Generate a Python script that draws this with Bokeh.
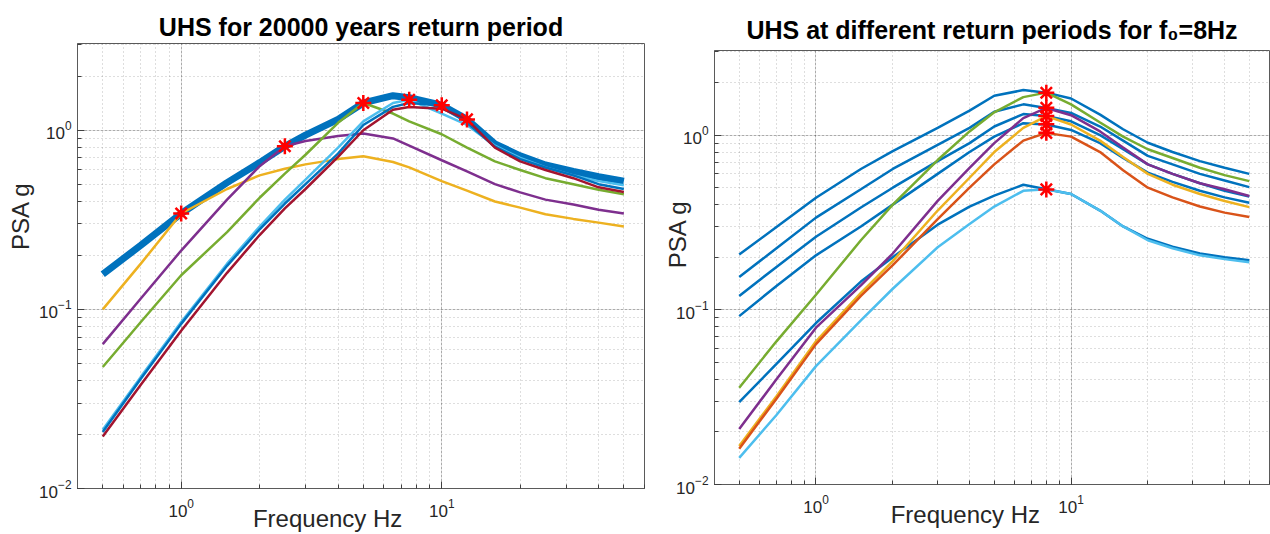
from bokeh.plotting import figure
from bokeh.models import Range1d, LogTicker, Title
from bokeh.layouts import row
from bokeh.embed import file_html
from bokeh.resources import INLINE

# ---------------- data: left panel (UHS 20000 years) ----------------
freq_left = [0.5, 0.7, 1, 1.5, 2, 2.5, 3, 4, 5, 6.5, 7.5, 10, 12.5, 16, 20, 25, 32, 40, 50]
uhs_20000 = [0.157, 0.228, 0.343, 0.51, 0.66, 0.814, 0.94, 1.15, 1.42, 1.56, 1.52, 1.38, 1.15, 0.84, 0.72, 0.64, 0.59, 0.55, 0.52]
cs_1hz = [0.1, 0.18, 0.343, 0.47, 0.56, 0.61, 0.645, 0.69, 0.715, 0.665, 0.62, 0.52, 0.46, 0.4, 0.37, 0.34, 0.32, 0.305, 0.29]
cs_2p5hz = [0.064, 0.115, 0.213, 0.41, 0.63, 0.814, 0.87, 0.93, 0.96, 0.9, 0.82, 0.68, 0.59, 0.5, 0.45, 0.41, 0.385, 0.36, 0.343]
cs_5hz = [0.0477, 0.085, 0.155, 0.27, 0.42, 0.573, 0.73, 1.1, 1.42, 1.24, 1.12, 0.95, 0.8, 0.67, 0.6, 0.54, 0.5, 0.465, 0.439]
cs_7p5hz = [0.0213, 0.042, 0.085, 0.18, 0.29, 0.41, 0.53, 0.8, 1.12, 1.42, 1.48, 1.24, 1.07, 0.82, 0.7, 0.62, 0.56, 0.52, 0.493]
cs_10hz = [0.0207, 0.041, 0.083, 0.175, 0.28, 0.39, 0.5, 0.74, 1.07, 1.35, 1.42, 1.38, 1.1, 0.81, 0.69, 0.62, 0.56, 0.5, 0.47]
cs_12p5hz = [0.0195, 0.038, 0.076, 0.16, 0.26, 0.366, 0.47, 0.71, 1.0, 1.3, 1.35, 1.32, 1.15, 0.8, 0.67, 0.6, 0.54, 0.48, 0.452]
star_freq_left = [1, 2.5, 5, 7.5, 10, 12.5]
star_psa_left = [0.343, 0.814, 1.42, 1.48, 1.38, 1.15]

# ---------------- data: right panel (f0 = 8 Hz) ----------------
freq_right = [0.5, 0.7, 1, 1.5, 2, 3, 4, 5, 6.5, 8, 10, 13, 16, 20, 25, 32, 40, 50]
uhs_rp1 = [0.207, 0.298, 0.438, 0.64, 0.81, 1.1, 1.38, 1.68, 1.81, 1.75, 1.62, 1.31, 1.08, 0.904, 0.8, 0.71, 0.65, 0.6]
uhs_rp2 = [0.154, 0.225, 0.337, 0.49, 0.64, 0.88, 1.1, 1.36, 1.5, 1.43, 1.34, 1.12, 0.93, 0.76, 0.68, 0.6, 0.55, 0.504]
uhs_rp3 = [0.12, 0.176, 0.262, 0.385, 0.5, 0.71, 0.9, 1.12, 1.32, 1.285, 1.2, 1.0, 0.83, 0.68, 0.6, 0.53, 0.48, 0.445]
uhs_rp4 = [0.092, 0.137, 0.205, 0.3, 0.4, 0.6, 0.8, 0.98, 1.17, 1.15, 1.07, 0.9, 0.74, 0.61, 0.54, 0.48, 0.44, 0.41]
uhs_rp5 = [0.0296, 0.049, 0.084, 0.145, 0.2, 0.307, 0.39, 0.45, 0.52, 0.49, 0.46, 0.37, 0.3, 0.255, 0.23, 0.21, 0.2, 0.192]
cs_rp1 = [0.0358, 0.066, 0.122, 0.25, 0.4, 0.72, 1.05, 1.35, 1.65, 1.75, 1.5, 1.18, 0.98, 0.83, 0.74, 0.65, 0.59, 0.545]
cs_rp2 = [0.0208, 0.04, 0.079, 0.138, 0.21, 0.42, 0.65, 0.9, 1.25, 1.43, 1.3, 1.05, 0.85, 0.68, 0.6, 0.53, 0.49, 0.448]
cs_rp3 = [0.0166, 0.032, 0.066, 0.125, 0.19, 0.37, 0.57, 0.8, 1.1, 1.285, 1.15, 0.93, 0.75, 0.6, 0.52, 0.46, 0.42, 0.387]
cs_rp4 = [0.016, 0.031, 0.0636, 0.12, 0.18, 0.33, 0.5, 0.68, 0.93, 1.03, 0.98, 0.8, 0.63, 0.5, 0.44, 0.39, 0.36, 0.34]
cs_rp5 = [0.0142, 0.025, 0.0476, 0.087, 0.132, 0.228, 0.31, 0.39, 0.48, 0.49, 0.46, 0.37, 0.3, 0.25, 0.225, 0.205, 0.195, 0.187]
star_freq_right = [8, 8, 8, 8, 8, 8]
star_psa_right = [1.746, 1.433, 1.285, 1.152, 1.03, 0.489]

x_limits = [0.4, 60]
y_limits = [0.01, 3.05]

FONT = "Liberation Sans"
AX = "#262626"
NB = "\u00a0"
BLUE, ORANGE, YELLOW, PURPLE, GREEN, LBLUE, DRED = (
    "#0072BD", "#D95319", "#EDB120", "#7E2F8E", "#77AC30", "#4DBEEE", "#A2142F")


def style_axis(ax):
    ax.axis_line_color = "#5a5a5a"
    ax.axis_line_width = 1
    ax.major_tick_in = 7
    ax.major_tick_out = 0
    ax.minor_tick_in = 4
    ax.minor_tick_out = 0
    ax.major_tick_line_color = "#404040"
    ax.minor_tick_line_color = "#404040"
    ax.major_label_text_font = FONT
    ax.major_label_text_font_size = "17px"
    ax.major_label_text_color = AX
    ax.axis_label_text_font = FONT
    ax.axis_label_text_font_style = "normal"
    ax.axis_label_text_font_size = "24px"
    ax.axis_label_text_color = AX


def make_fig(width, bl, br, bt, bb, title, title_standoff,
             xlabel, xlabel_standoff, ylabel, ylabel_standoff):
    p = figure(width=width, height=534, x_axis_type="log", y_axis_type="log",
               x_range=Range1d(*x_limits), y_range=Range1d(*y_limits),
               output_backend="svg", toolbar_location=None, title=None,
               min_border_left=bl, min_border_right=br,
               min_border_top=bt, min_border_bottom=bb)
    try:
        p.frame_align = False
    except Exception:
        pass
    p.background_fill_color = "white"
    p.border_fill_color = "white"
    p.outline_line_color = "#5a5a5a"
    bottom = p.below[0]
    left = p.left[0]
    bottom.ticker = LogTicker(num_minor_ticks=10)
    left.ticker = LogTicker(num_minor_ticks=10)
    style_axis(bottom)
    style_axis(left)
    bottom.major_label_standoff = 10
    left.major_label_standoff = 6
    bottom.axis_label = xlabel
    bottom.axis_label_standoff = xlabel_standoff
    left.axis_label = ylabel
    left.axis_label_standoff = ylabel_standoff
    p.add_layout(Title(text=title, align="center", text_font=FONT,
                       text_font_size="25px", text_font_style="bold",
                       text_color="black", standoff=title_standoff), "above")
    for g in (p.xgrid[0], p.ygrid[0]):
        g.grid_line_color = AX
        g.grid_line_alpha = 0.15
        g.minor_grid_line_color = AX
        g.minor_grid_line_alpha = 0.3
        g.minor_grid_line_dash = "1 3"
    return p


# ---------------- left figure ----------------
p1 = make_fig(660, 77, 16, 43, 46, "UHS for 20000 years return period", 6,
              "Frequency Hz" + NB * 10, -15, NB * 15 + "PSA g", 2)
p1.line(freq_left, uhs_20000, color=BLUE, line_width=7)
p1.line(freq_left, cs_1hz, color=YELLOW, line_width=2.5)
p1.line(freq_left, cs_2p5hz, color=PURPLE, line_width=2.5)
p1.line(freq_left, cs_5hz, color=GREEN, line_width=2.5)
p1.line(freq_left, cs_7p5hz, color=LBLUE, line_width=2.5)
p1.line(freq_left, cs_10hz, color=BLUE, line_width=2.5)
p1.line(freq_left, cs_12p5hz, color=DRED, line_width=2.5)
p1.scatter(star_freq_left, star_psa_left, marker="asterisk", size=16,
           line_color="#FF0000", line_width=2.5)

# ---------------- right figure ----------------
p2 = make_fig(610, 54, 1, 50, 50, "UHS at different return periods for f\u2080=8Hz", 13,
              "Frequency Hz" + NB * 8, -15, NB * 10 + "PSA g", -18)
for ys in (uhs_rp1, uhs_rp2, uhs_rp3, uhs_rp4, uhs_rp5):
    p2.line(freq_right, ys, color=BLUE, line_width=2.5)
p2.line(freq_right, cs_rp1, color=GREEN, line_width=2.5)
p2.line(freq_right, cs_rp2, color=PURPLE, line_width=2.5)
p2.line(freq_right, cs_rp3, color=YELLOW, line_width=2.5)
p2.line(freq_right, cs_rp4, color=ORANGE, line_width=2.5)
p2.line(freq_right, cs_rp5, color=LBLUE, line_width=2.5)
p2.scatter(star_freq_right, star_psa_right, marker="asterisk", size=16,
           line_color="#FF0000", line_width=2.5)

layout = row(p1, p2)
open("out.html", "w").write(file_html(layout, INLINE))
